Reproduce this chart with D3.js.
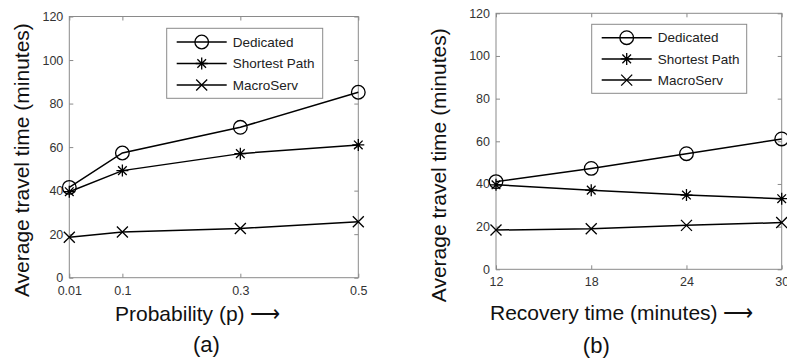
<!DOCTYPE html>
<html>
<head>
<meta charset="utf-8">
<script src="https://cdn.jsdelivr.net/npm/d3@7"></script>
<style>
  html, body { margin: 0; padding: 0; background: #fff; }
  svg { display: block; font-family: "Liberation Sans", Arial, sans-serif; }
  .tick line { stroke: #8a8a8a; }
  .tick text { fill: #333; font-size: 12.5px; }
</style>
</head>
<body>
<svg id="fig" width="787" height="361"></svg>
<script>
// values
const seriesNames = ['Dedicated', 'Shortest Path', 'MacroServ'];
const markerTypes = ['circle', 'asterisk', 'times'];
const yTicks = [0, 20, 40, 60, 80, 100, 120];

const probValues = [0.01, 0.1, 0.3, 0.5];
const dedicatedA = [41.5, 57.3, 69.1, 85.2];
const shortestA  = [39.5, 49.2, 57.0, 61.0];
const macroA     = [18.6, 21.0, 22.6, 25.7];

const recoveryValues = [12, 18, 24, 30];
const dedicatedB = [41.1, 47.3, 54.2, 61.1];
const shortestB  = [39.6, 37.1, 34.8, 33.1];
const macroB     = [18.4, 19.0, 20.6, 21.9];

const svg = d3.select('#fig');

function markerPath(type, x, y) {
  const p = d3.path();
  if (type === 'circle') {
    const r = 6.8;
    p.moveTo(x + r, y);
    p.arc(x, y, r, 0, 2 * Math.PI);
  } else if (type === 'asterisk') {
    const r = 6, d = r * 0.72;
    p.moveTo(x - r, y); p.lineTo(x + r, y);
    p.moveTo(x, y - r); p.lineTo(x, y + r);
    p.moveTo(x - d, y - d); p.lineTo(x + d, y + d);
    p.moveTo(x - d, y + d); p.lineTo(x + d, y - d);
  } else {
    const d = 5.5;
    p.moveTo(x - d, y - d); p.lineTo(x + d, y + d);
    p.moveTo(x - d, y + d); p.lineTo(x + d, y - d);
  }
  return p.toString();
}

function drawPanel(cfg) {
  const x = d3.scaleLinear().domain(d3.extent(cfg.xValues)).range([cfg.left, cfg.right]);
  const y = d3.scaleLinear().domain([0, 120]).range([cfg.bottom, cfg.top]);
  const g = svg.append('g');

  // frame
  g.append('rect')
    .attr('x', cfg.left).attr('y', cfg.top)
    .attr('width', cfg.right - cfg.left).attr('height', cfg.bottom - cfg.top)
    .attr('fill', 'none').attr('stroke', '#8a8a8a');

  const bottomAxis = g.append('g').attr('transform', `translate(0,${cfg.bottom})`)
    .call(d3.axisBottom(x).tickValues(cfg.xValues).tickFormat(d => String(d)).tickSize(-4).tickPadding(8));
  const leftAxis = g.append('g').attr('transform', `translate(${cfg.left},0)`)
    .call(d3.axisLeft(y).tickValues(yTicks).tickSize(-4).tickPadding(6));
  const topAxis = g.append('g').attr('transform', `translate(0,${cfg.top})`)
    .call(d3.axisTop(x).tickValues(cfg.xValues).tickSize(-4).tickFormat(''));
  const rightAxis = g.append('g').attr('transform', `translate(${cfg.right},0)`)
    .call(d3.axisRight(y).tickValues(yTicks).tickSize(-4).tickFormat(''));
  [bottomAxis, leftAxis, topAxis, rightAxis].forEach(a => {
    a.select('.domain').remove();
    a.attr('font-family', null).attr('font-size', null);
  });

  const line = d3.line().x(d => x(d[0])).y(d => y(d[1]));
  cfg.series.forEach((vals, i) => {
    const pts = cfg.xValues.map((v, j) => [v, vals[j]]);
    g.append('path').datum(pts)
      .attr('d', line).attr('fill', 'none')
      .attr('stroke', '#000').attr('stroke-width', 1.5);
    g.selectAll(null).data(pts).enter().append('path')
      .attr('d', d => markerPath(markerTypes[i], x(d[0]), y(d[1])))
      .attr('fill', 'none').attr('stroke', '#000').attr('stroke-width', 1.3);
  });

  // legend
  const lg = cfg.legend;
  g.append('rect')
    .attr('x', lg.x).attr('y', lg.y).attr('width', lg.w).attr('height', lg.h)
    .attr('fill', '#fff').attr('stroke', '#8a8a8a');
  seriesNames.forEach((name, i) => {
    const ly = lg.y + lg.first + i * lg.step;
    g.append('line')
      .attr('x1', lg.x + 10).attr('x2', lg.x + 60).attr('y1', ly).attr('y2', ly)
      .attr('stroke', '#000').attr('stroke-width', 1.5);
    g.append('path')
      .attr('d', markerPath(markerTypes[i], lg.x + 35, ly))
      .attr('fill', 'none').attr('stroke', '#000').attr('stroke-width', 1.3);
    g.append('text')
      .attr('x', lg.x + 66).attr('y', ly).attr('dy', '0.35em')
      .attr('font-size', '13.5px').attr('fill', '#222')
      .text(name);
  });

  // axis titles
  g.append('text')
    .attr('transform', `translate(${cfg.yLabelX},${(cfg.top + cfg.bottom) / 2 + cfg.yLabelShift}) rotate(-90)`)
    .attr('text-anchor', 'middle').attr('font-size', '21px').attr('fill', '#111')
    .text('Average travel time (minutes)');
  g.append('text')
    .attr('x', cfg.xLabelX).attr('y', cfg.xLabelY)
    .attr('font-size', '21px').attr('fill', '#111')
    .text(cfg.xLabel + ' \u27F6');
  g.append('text')
    .attr('x', cfg.capX).attr('y', cfg.capY)
    .attr('text-anchor', 'middle').attr('font-size', '22px').attr('fill', '#111')
    .text(cfg.caption);
}

drawPanel({
  xValues: probValues,
  series: [dedicatedA, shortestA, macroA],
  left: 69.3, right: 358.3, top: 16.5, bottom: 277.7,
  legend: { x: 166.7, y: 28.3, w: 156, h: 70, first: 13.7, step: 21.5 },
  yLabelX: 29, yLabelShift: 13,
  xLabel: 'Probability (p)', xLabelX: 115, xLabelY: 321,
  caption: '(a)', capX: 206.4, capY: 352
});

drawPanel({
  xValues: recoveryValues,
  series: [dedicatedB, shortestB, macroB],
  left: 496, right: 781.7, top: 13.3, bottom: 269.3,
  legend: { x: 591.7, y: 24.3, w: 155, h: 69, first: 13.4, step: 21.2 },
  yLabelX: 445.6, yLabelShift: 24,
  xLabel: 'Recovery time (minutes)', xLabelX: 490, xLabelY: 320,
  caption: '(b)', capX: 596.3, capY: 352.5
});
</script>
</body>
</html>
